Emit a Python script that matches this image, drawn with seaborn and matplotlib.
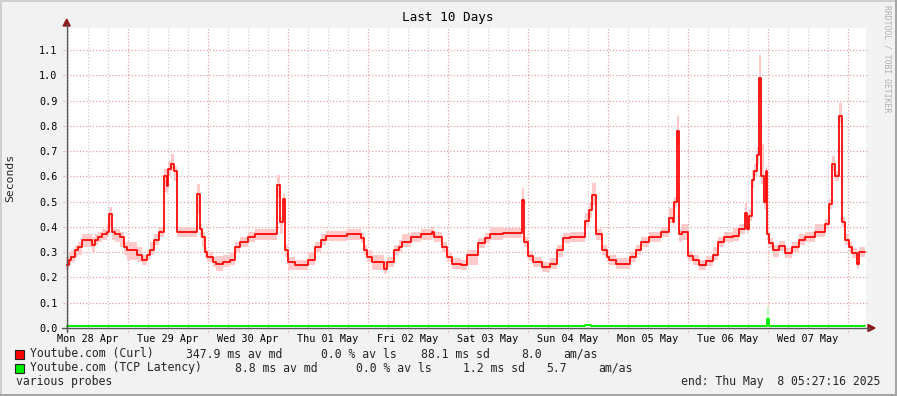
import matplotlib
matplotlib.use("Agg")
import matplotlib.pyplot as plt
import seaborn as sns
import numpy as np
import pandas as pd
from matplotlib.lines import Line2D
from matplotlib.patches import Rectangle, Polygon

# ---------------- data (hours since window start, seconds) ----------------
curl_hours = [
    0.0, 0.9, 1.5, 2.7, 3.6, 4.8, 7.8, 8.7, 9.6, 10.8,
    12.3, 12.9, 13.8, 14.7, 16.2, 17.4, 18.3, 21.3, 22.8, 24.3,
    25.2, 26.4, 27.9, 29.4, 30.3, 30.6, 31.5, 32.4, 33.3, 39.3,
    40.2, 40.8, 41.7, 42.3, 44.1, 45.0, 47.1, 49.2, 50.7, 52.2,
    54.6, 56.7, 63.3, 64.2, 65.1, 65.7, 66.6, 68.7, 72.6, 74.7,
    76.5, 78.0, 84.3, 88.5, 89.4, 90.3, 91.8, 95.4, 96.3, 98.4,
    99.9, 100.8, 103.5, 106.5, 109.8, 110.4, 112.8, 114.3, 115.8, 118.5,
    120.3, 123.6, 125.7, 127.2, 131.1, 136.8, 137.4, 138.6, 140.1, 142.8,
    145.2, 147.3, 149.1, 151.2, 155.7, 156.9, 157.8, 159.0, 160.8, 162.3,
    162.9, 165.0, 169.2, 171.0, 172.5, 174.9, 178.5, 180.9, 182.1, 182.4,
    183.3, 183.9, 184.8, 186.6, 188.1, 189.9, 192.0, 194.1, 195.6, 197.4,
    200.1, 201.9, 203.6, 204.3, 204.9, 205.8, 206.4, 207.3, 207.9, 208.5,
    209.4, 210.0, 210.3, 210.9, 212.1, 213.9, 215.7, 217.8, 219.9, 221.7,
    224.7, 227.7, 228.9, 229.8, 230.7, 231.9, 232.8, 233.7, 234.9, 235.8,
    237.3, 237.9, 239.7,
]
curl_median = [
    0.25, 0.27, 0.28, 0.31, 0.32, 0.35, 0.33, 0.35, 0.36, 0.37,
    0.38, 0.45, 0.38, 0.37, 0.36, 0.32, 0.31, 0.29, 0.27, 0.29,
    0.31, 0.35, 0.38, 0.60, 0.56, 0.63, 0.65, 0.62, 0.38, 0.53,
    0.39, 0.36, 0.30, 0.28, 0.26, 0.255, 0.26, 0.27, 0.32, 0.34,
    0.36, 0.37, 0.565, 0.42, 0.51, 0.31, 0.26, 0.25, 0.27, 0.32,
    0.35, 0.365, 0.37, 0.355, 0.31, 0.28, 0.26, 0.235, 0.26, 0.31,
    0.32, 0.34, 0.36, 0.37, 0.38, 0.36, 0.32, 0.28, 0.255, 0.25,
    0.29, 0.335, 0.355, 0.37, 0.375, 0.505, 0.34, 0.285, 0.26, 0.24,
    0.255, 0.31, 0.355, 0.36, 0.425, 0.465, 0.525, 0.37, 0.31, 0.28,
    0.27, 0.255, 0.28, 0.31, 0.34, 0.36, 0.38, 0.435, 0.42, 0.50,
    0.78, 0.37, 0.38, 0.285, 0.27, 0.25, 0.265, 0.29, 0.34, 0.36,
    0.365, 0.39, 0.455, 0.39, 0.445, 0.585, 0.62, 0.685, 0.99, 0.60,
    0.50, 0.62, 0.37, 0.335, 0.31, 0.325, 0.295, 0.32, 0.35, 0.36,
    0.38, 0.41, 0.49, 0.65, 0.60, 0.84, 0.42, 0.35, 0.32, 0.295,
    0.255, 0.30, 0.30,
]
curl_smoke_up = [
    0.03, 0.03, 0.03, 0.02, 0.02, 0.02, 0.03, 0.02, 0.02, 0.02,
    0.03, 0.03, 0.02, 0.02, 0.02, 0.02, 0.03, 0.03, 0.02, 0.02,
    0.03, 0.02, 0.02, 0.03, 0.03, 0.03, 0.04, 0.02, 0.02, 0.04,
    0.02, 0.02, 0.02, 0.02, 0.02, 0.03, 0.03, 0.03, 0.02, 0.02,
    0.02, 0.02, 0.04, 0.02, 0.02, 0.02, 0.02, 0.02, 0.03, 0.02,
    0.02, 0.02, 0.02, 0.02, 0.02, 0.03, 0.03, 0.03, 0.02, 0.02,
    0.03, 0.03, 0.02, 0.02, 0.02, 0.02, 0.02, 0.02, 0.02, 0.02,
    0.02, 0.02, 0.02, 0.03, 0.02, 0.05, 0.02, 0.02, 0.02, 0.02,
    0.02, 0.02, 0.02, 0.02, 0.03, 0.03, 0.05, 0.02, 0.02, 0.02,
    0.02, 0.02, 0.02, 0.02, 0.02, 0.02, 0.02, 0.04, 0.02, 0.02,
    0.06, 0.02, 0.03, 0.02, 0.02, 0.02, 0.02, 0.03, 0.02, 0.02,
    0.03, 0.02, 0.04, 0.02, 0.02, 0.04, 0.03, 0.03, 0.09, 0.13,
    0.02, 0.02, 0.02, 0.02, 0.02, 0.02, 0.02, 0.02, 0.02, 0.02,
    0.03, 0.02, 0.02, 0.03, 0.02, 0.05, 0.02, 0.02, 0.02, 0.02,
    0.02, 0.02, 0.02,
]
curl_smoke_dn = [
    0.02, 0.02, 0.02, 0.03, 0.03, 0.03, 0.03, 0.02, 0.02, 0.02,
    0.02, 0.05, 0.03, 0.03, 0.04, 0.03, 0.04, 0.03, 0.02, 0.02,
    0.02, 0.02, 0.02, 0.06, 0.03, 0.03, 0.03, 0.04, 0.02, 0.08,
    0.03, 0.04, 0.02, 0.02, 0.02, 0.03, 0.02, 0.02, 0.02, 0.02,
    0.02, 0.02, 0.05, 0.05, 0.06, 0.03, 0.03, 0.02, 0.02, 0.02,
    0.02, 0.02, 0.02, 0.02, 0.02, 0.02, 0.03, 0.02, 0.02, 0.02,
    0.02, 0.02, 0.02, 0.02, 0.02, 0.02, 0.02, 0.02, 0.02, 0.02,
    0.04, 0.02, 0.02, 0.02, 0.02, 0.03, 0.02, 0.02, 0.02, 0.02,
    0.02, 0.03, 0.02, 0.02, 0.02, 0.03, 0.04, 0.02, 0.02, 0.02,
    0.02, 0.02, 0.02, 0.02, 0.02, 0.02, 0.02, 0.02, 0.02, 0.02,
    0.05, 0.03, 0.03, 0.02, 0.02, 0.02, 0.02, 0.02, 0.02, 0.02,
    0.02, 0.02, 0.03, 0.02, 0.02, 0.03, 0.02, 0.04, 0.08, 0.03,
    0.03, 0.03, 0.02, 0.02, 0.03, 0.02, 0.02, 0.02, 0.02, 0.02,
    0.02, 0.02, 0.02, 0.03, 0.02, 0.03, 0.02, 0.02, 0.02, 0.02,
    0.02, 0.02, 0.02,
]

tcp_hours = [0.0, 155.7, 157.5, 210.3, 210.9, 239.7]
tcp_median = [0.008, 0.011, 0.008, 0.036, 0.008, 0.008]
tcp_smoke_hi = [0.009, 0.012, 0.009, 0.084, 0.009, 0.009]

day_labels = ["Mon 28 Apr", "Tue 29 Apr", "Wed 30 Apr", "Thu 01 May", "Fri 02 May",
              "Sat 03 May", "Sun 04 May", "Mon 05 May", "Tue 06 May", "Wed 07 May"]
y_ticks = [0.0, 0.1, 0.2, 0.3, 0.4, 0.5, 0.6, 0.7, 0.8, 0.9, 1.0, 1.1]

legend_rows = [
    ["Youtube.com (Curl)", "347.9 ms av md", "0.0 % av ls", "88.1 ms sd", "8.0", "am/as"],
    ["Youtube.com (TCP Latency)", "8.8 ms av md", "0.0 % av ls", "1.2 ms sd", "5.7", "am/as"],
]
series_colors = ["#ff0000", "#00ee00"]

title = "Last 10 Days"
end_text = "end: Thu May  8 05:27:16 2025"
start_clock_h = 5 + 27 / 60 + 16 / 3600   # window starts Apr 28 05:27:16
span_h = 240.0

# ---------------- figure ----------------
sns.set_style("white")
plt.rcParams["font.family"] = ["DejaVu Sans Mono", "DejaVu Sans"]

W, H = 897, 396
fig = plt.figure(figsize=(W / 100, H / 100), dpi=100, facecolor="#f2f2f2")


def fx(x):
    return x / W


def fy(y):
    return 1 - y / H


X0, X1, Y0, Y1 = 66, 866, 328, 28
ax = fig.add_axes([fx(X0), fy(Y0), (X1 - X0) / W, (Y0 - Y1) / H])
ax.set_facecolor("white")
ymax = 1.187
ax.set_xlim(0, span_h)
ax.set_ylim(0, ymax)
for s in ax.spines.values():
    s.set_visible(False)

first_midnight = 24 - start_clock_h
midnights = [first_midnight + 24 * k for k in range(10)]
six_hours = [first_midnight - 18 + 6 * k for k in range(41)]
noons = [first_midnight - 12 + 24 * k for k in range(10)]

dot = (0, (1, 1.6))
for t in six_hours:
    if 0 < t < span_h and all(abs(t - m) > 0.5 for m in midnights):
        ax.axvline(t, ymin=-0.01, ymax=1, color="#cccccc", lw=0.9, ls=dot, clip_on=False, zorder=1)
for t in midnights:
    ax.axvline(t, ymin=-0.013, ymax=1, color="#e3a3a3", lw=0.9, ls=dot, clip_on=False, zorder=1)
for v in y_ticks[1:]:
    ax.axhline(v, xmin=-0.004, xmax=1.003, color="#e3a3a3", lw=0.9, ls=dot, clip_on=False, zorder=1)

# smoke
curl = pd.DataFrame({"hours": curl_hours, "median": curl_median,
                     "up": curl_smoke_up, "dn": curl_smoke_dn})
curl["lo"] = curl["median"] - curl["dn"]
curl["hi"] = curl["median"] + curl["up"]
ax.fill_between(curl["hours"], curl["lo"], curl["hi"], step="post",
                color="#ffcaca", lw=0, zorder=2)
tcp = pd.DataFrame({"hours": tcp_hours, "median": tcp_median, "hi": tcp_smoke_hi})
ax.fill_between(tcp["hours"], tcp["median"], tcp["hi"], step="post",
                color="#c8f5c8", lw=0, zorder=2)

sns.lineplot(data=curl, x="hours", y="median", ax=ax, color=series_colors[0],
             lw=1.25, drawstyle="steps-post", estimator=None, zorder=4)
sns.lineplot(data=tcp, x="hours", y="median", ax=ax, color=series_colors[1],
             lw=1.4, drawstyle="steps-post", estimator=None, zorder=4)

ax.set_xlabel("")
ax.set_ylabel("")
ax.set_xticks(noons)
ax.set_xticklabels(day_labels)
ax.set_yticks(y_ticks)
ax.set_yticklabels([f"{v:.1f}" for v in y_ticks])
ax.tick_params(axis="both", length=0, labelsize=7.3, colors="#000000")
ax.tick_params(axis="x", pad=4)
ax.tick_params(axis="y", pad=6)

# axes lines with arrows
fig.add_artist(Line2D([fx(62), fx(870)], [fy(Y0), fy(Y0)], color="#555555", lw=1.0))
fig.add_artist(Line2D([fx(66.7), fx(66.7)], [fy(332), fy(24)], color="#555555", lw=1.0))
fig.add_artist(Polygon([[fx(868), fy(324.5)], [fx(875), fy(Y0)], [fx(868), fy(331.5)]],
                       closed=True, color="#8b1a1a", transform=fig.transFigure))
fig.add_artist(Polygon([[fx(63.2), fy(26)], [fx(66.7), fy(19)], [fx(70.2), fy(26)]],
                       closed=True, color="#8b1a1a", transform=fig.transFigure))

# texts
fig.text(fx(448), fy(18), title, ha="center", va="center", fontsize=9.2, color="#000000")
fig.text(fx(10), fy(178), "Seconds", ha="center", va="center", rotation=90, fontsize=8.2)
fig.text(fx(887), fy(59), "RRDTOOL / TOBI OETIKER", ha="center", va="center",
         rotation=270, fontsize=5.9, color="#b0b0b0")

row_y = [354, 368]
piece_x = [[30, 185.7, 321, 421, 521, 563], [30, 235.3, 356, 463.3, 546.7, 598.3]]
for r, (row, color) in enumerate(zip(legend_rows, series_colors)):
    fig.add_artist(Rectangle((fx(15), fy(row_y[r] + 4.5)), 9 / W, 9 / H, facecolor=color,
                             edgecolor="#222222", lw=0.8, transform=fig.transFigure))
    for piece, x in zip(row, piece_x[r]):
        fig.text(fx(x), fy(row_y[r]), piece, ha="left", va="center", fontsize=8.3)
fig.text(fx(16), fy(381.5), "various probes", ha="left", va="center", fontsize=8.3)
fig.text(fx(880), fy(381.5), end_text, ha="right", va="center", fontsize=8.3)

# frame shading
fig.add_artist(Rectangle((0, fy(2)), 1, 2 / H, color="#cfcfcf", transform=fig.transFigure, lw=0))
fig.add_artist(Rectangle((0, 0), 2 / W, 1, color="#cfcfcf", transform=fig.transFigure, lw=0))
fig.add_artist(Rectangle((0, 0), 1, 2 / H, color="#a6a6a6", transform=fig.transFigure, lw=0))
fig.add_artist(Rectangle((1 - 2 / W, 0), 2 / W, 1, color="#a6a6a6", transform=fig.transFigure, lw=0))

fig.savefig("out.png", dpi=100, facecolor=fig.get_facecolor())
